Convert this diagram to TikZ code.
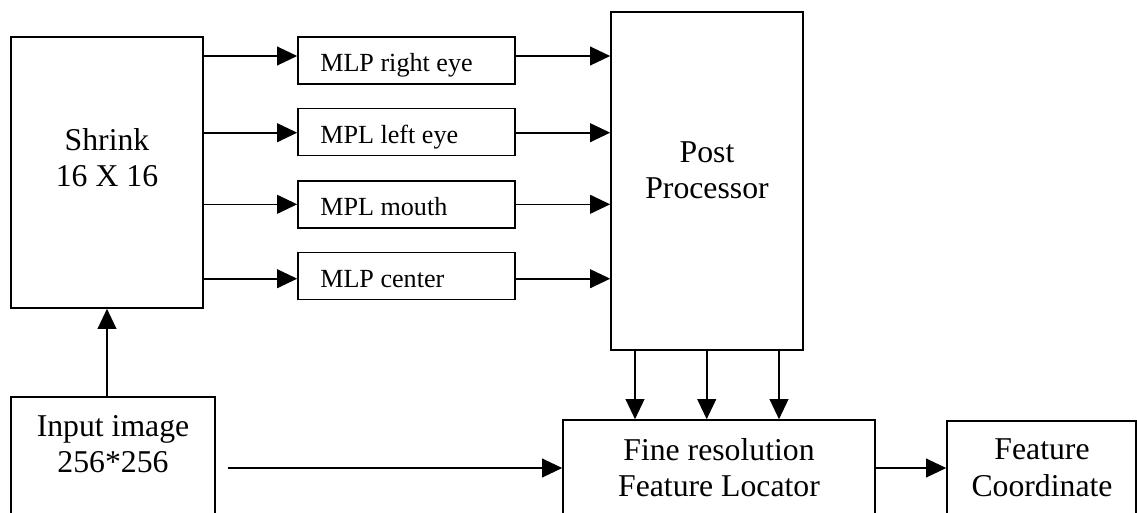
\documentclass[tikz,border=0pt]{standalone}
\usepackage{fontspec}
\setmainfont{Liberation Serif}
\usetikzlibrary{arrows.meta}
\tikzset{
  box/.style={draw, line width=1.2pt, rectangle, inner sep=0pt},
  bigtxt/.style={font=\fontsize{23.8pt}{27.4pt}\selectfont, align=center, inner sep=0pt},
  smalltxt/.style={font=\fontsize{19.6pt}{23pt}\selectfont, inner sep=0pt, anchor=base west},
  arr/.style={line width=1.2pt, -{Triangle[length=15pt,width=14pt]}},
}
\begin{document}
\begin{tikzpicture}[x=0.75pt,y=-0.75pt]
\useasboundingbox (0,0) rectangle (1137,512);
\clip (0,0) rectangle (1137,512);
% boxes
\node[box, minimum width=144pt, minimum height=203.25pt] (shrink) at (107,172.5) {};
\node[box, minimum width=153pt, minimum height=122.25pt] (inp) at (113,478.5) {};
\node[box, minimum width=162.75pt, minimum height=35.25pt] (m1) at (406.5,60.5) {};
\node[box, minimum width=162.75pt, minimum height=35.25pt] (m2) at (406.5,132) {};
\node[box, minimum width=162.75pt, minimum height=35.25pt] (m3) at (406.5,204.5) {};
\node[box, minimum width=162.75pt, minimum height=35.25pt] (m4) at (406.5,276) {};
\node[box, minimum width=144pt, minimum height=253.5pt] (post) at (707,181) {};
\node[box, minimum width=234pt, minimum height=105pt] (fine) at (719,490) {};
\node[box, minimum width=141.75pt, minimum height=104.25pt] (fc) at (1041.5,490.5) {};
% texts
\node[bigtxt] (shrinkT) at (107,157.7) {Shrink\\16 X 16};
\node[bigtxt] (inpT) at (113,444.3) {Input image\\256*256};
\node[bigtxt] (postT) at (707,170.3) {Post\\Processor};
\node[bigtxt] (fineT) at (719,467.7) {Fine resolution\\Feature Locator};
\node[bigtxt] (fcT) at (1042,467.5) {Feature\\Coordinate};
\node[smalltxt] (m1T) at (320,71.7) {MLP right eye};
\node[smalltxt] (m2T) at (320,143.3) {MPL left eye};
\node[smalltxt] (m3T) at (320,215) {MPL mouth};
\node[smalltxt] (m4T) at (320,287) {MLP center};
% connectors
\draw[arr] (shrink.east |- 0,56) -- (m1.west |- 0,56);
\draw[arr] (shrink.east |- 0,132.7) -- (m2.west |- 0,132.7);
\draw[arr] (shrink.east |- 0,204.3) -- (m3.west |- 0,204.3);
\draw[arr] (shrink.east |- 0,278.7) -- (m4.west |- 0,278.7);
\draw[arr] (m1.east |- 0,56) -- (post.west |- 0,56);
\draw[arr] (m2.east |- 0,132.7) -- (post.west |- 0,132.7);
\draw[arr] (m3.east |- 0,204.3) -- (post.west |- 0,204.3);
\draw[arr] (m4.east |- 0,278.7) -- (post.west |- 0,278.7);
\draw[arr] (inp.north -| 107,0) -- (shrink.south -| 107,0);
\draw[arr, shorten <=9pt] (inp.east |- 0,468) -- (fine.west |- 0,468);
\draw[arr] (post.south -| 635,0) -- (fine.north -| 635,0);
\draw[arr] (post.south -| 706.7,0) -- (fine.north -| 706.7,0);
\draw[arr] (post.south -| 779,0) -- (fine.north -| 779,0);
\draw[arr] (fine.east |- 0,468) -- (fc.west |- 0,468);
\end{tikzpicture}
\end{document}
